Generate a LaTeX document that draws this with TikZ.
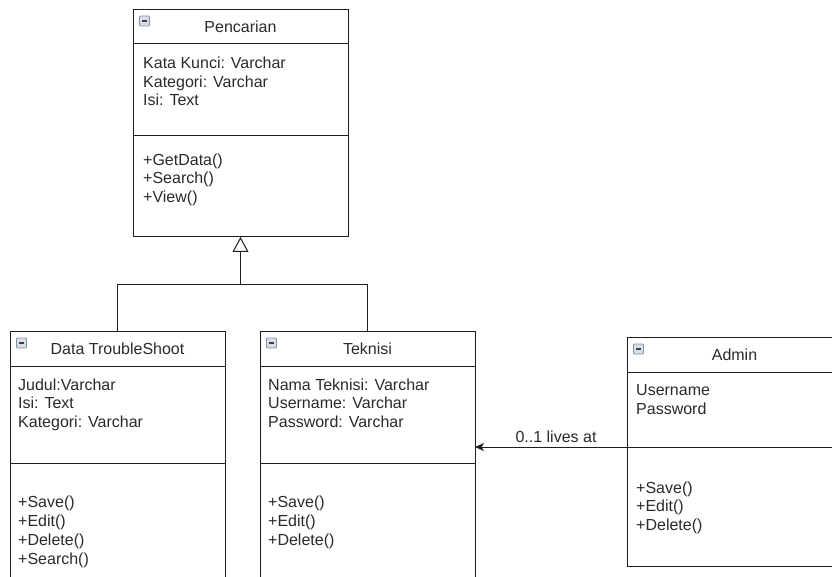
\documentclass[tikz,border=0pt]{standalone}
\usepackage{fontspec}
\setmainfont{Liberation Sans}
\usetikzlibrary{arrows.meta}
\definecolor{linecol}{HTML}{1E1E1E}
\definecolor{textcol}{HTML}{2A2A2A}
\definecolor{iconborder}{HTML}{7F93AD}
\definecolor{iconfill}{HTML}{D9DEE5}
\begin{document}
\begin{tikzpicture}[x=1pt,y=-1pt,
  classbox/.style={draw=linecol, line width=1pt, anchor=north west, minimum width=215pt, inner sep=0pt, outer sep=0pt},
  txt/.style={font=\fontsize{16}{18.8}\selectfont, text=textcol, inner sep=0pt, align=left, anchor=north west},
  ttl/.style={font=\fontsize{16}{18.8}\selectfont, text=textcol, inner sep=0pt},
  sep/.style={draw=linecol, line width=1pt},
  icon/.style={draw=iconborder, fill=iconfill, line width=0.8pt, minimum size=10pt, inner sep=0pt, rounded corners=1pt,
    path picture={\draw[black!75, line width=1.3pt] ([xshift=2.5pt]path picture bounding box.west) -- ([xshift=-2.5pt]path picture bounding box.east);}},
  conn/.style={draw=linecol, line width=1pt},
]
\useasboundingbox (0,0) rectangle (832,577);

% ---------- Pencarian ----------
\node[classbox, minimum height=227.5pt] (penc) at (133,9.5) {};
\node[icon] (penci) at ([xshift=11.5pt,yshift=-11.5pt]penc.north west) {};
\node[ttl] (penct) at ([yshift=-17pt]penc.north) {Pencarian};
\draw[sep] ([yshift=-34pt]penc.north west) -- ([yshift=-34pt]penc.north east);
\draw[sep] ([yshift=-126pt]penc.north west) -- ([yshift=-126pt]penc.north east);
\node[txt] (penca) at (143,56.5) {Kata Kunci: Varchar\\Kategori: Varchar\\Isi: Text};
\node[txt] (pencm) at (143,153.3) {+GetData()\\+Search()\\+View()};

% ---------- Data TroubleShoot ----------
\node[classbox, minimum height=280pt] (dt) at (10,331) {};
\node[icon] (dti) at ([xshift=11.5pt,yshift=-12pt]dt.north west) {};
\node[ttl] (dtt) at ([yshift=-17.5pt]dt.north) {Data TroubleShoot};
\draw[sep] ([yshift=-35pt]dt.north west) -- ([yshift=-35pt]dt.north east);
\draw[sep] ([yshift=-132pt]dt.north west) -- ([yshift=-132pt]dt.north east);
\node[txt] (dta) at (18,378.4) {Judul:Varchar\\Isi: Text\\Kategori: Varchar};
\node[txt] (dtm) at (18,496) {+Save()\\+Edit()\\+Delete()\\+Search()};

% ---------- Teknisi ----------
\node[classbox, minimum height=280pt] (tk) at (260,331) {};
\node[icon] (tki) at ([xshift=11.5pt,yshift=-12pt]tk.north west) {};
\node[ttl] (tkt) at ([yshift=-17.5pt]tk.north) {Teknisi};
\draw[sep] ([yshift=-35pt]tk.north west) -- ([yshift=-35pt]tk.north east);
\draw[sep] ([yshift=-132pt]tk.north west) -- ([yshift=-132pt]tk.north east);
\node[txt] (tka) at (268,378.4) {Nama Teknisi: Varchar\\Username: Varchar\\Password: Varchar};
\node[txt] (tkm) at (268,496) {+Save()\\+Edit()\\+Delete()};

% ---------- Admin ----------
\node[classbox, minimum height=229pt] (ad) at (627,337) {};
\node[icon] (adi) at ([xshift=11.5pt,yshift=-12pt]ad.north west) {};
\node[ttl] (adt) at ([yshift=-17.5pt]ad.north) {Admin};
\draw[sep] ([yshift=-35pt]ad.north west) -- ([yshift=-35pt]ad.north east);
\coordinate (adsep) at ([yshift=-110pt]ad.north west);
\draw[sep] (adsep) -- ([yshift=-110pt]ad.north east);
\node[txt] (ada) at (636,384.4) {Username\\Password};
\node[txt] (adm) at (636,481.3) {+Save()\\+Edit()\\+Delete()};

% ---------- Generalization ----------
\coordinate (join) at (penc.south |- 0,284);
\draw[conn, -{Triangle[open, length=15pt, width=16pt, line width=1pt]}] (dt.north) |- (join) -- (penc.south);
\draw[conn] (tk.north) |- (join);

% ---------- Association ----------
\draw[conn, -{Stealth[length=9pt, width=8pt, inset=2.5pt]}] (adsep) -- (adsep -| tk.east)
  node[ttl, pos=0.467, anchor=south, yshift=3.7pt] (assoclbl) {0..1 lives at};
\end{tikzpicture}
\end{document}
